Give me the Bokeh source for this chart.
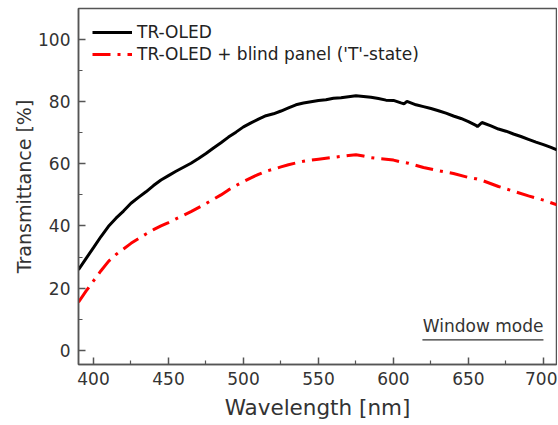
from bokeh.plotting import figure
from bokeh.models import Range1d, Legend, LegendItem, Label, FixedTicker
from bokeh.embed import file_html
from bokeh.resources import INLINE

# Data
wl_oled = [390, 395, 400, 405, 410, 415, 420, 425, 430, 435, 440, 445, 450, 455, 460, 465,
           470, 475, 480, 485, 490, 495, 500, 505, 510, 515, 520, 525, 530, 535, 540, 545,
           550, 555, 560, 565, 570, 575, 580, 585, 590, 595, 600, 605, 607, 609, 615, 620,
           625, 630, 635, 640, 645, 650, 655, 656, 659, 665, 670, 675, 680, 685, 690, 695,
           700, 705, 709]
t_oled = [25.9, 29.5, 33.0, 36.6, 39.9, 42.5, 44.8, 47.3, 49.2, 51.0, 53.0, 54.8, 56.2, 57.6,
          58.9, 60.2, 61.7, 63.3, 65.1, 66.8, 68.6, 70.2, 71.9, 73.2, 74.4, 75.5, 76.1, 77.0,
          78.0, 79.0, 79.6, 80.0, 80.4, 80.6, 81.1, 81.3, 81.6, 81.9, 81.7, 81.4, 81.0, 80.5,
          80.4, 79.6, 79.3, 80.1, 79.0, 78.4, 77.8, 77.1, 76.3, 75.4, 74.6, 73.6, 72.4, 72.0,
          73.3, 72.2, 71.2, 70.5, 69.6, 68.8, 67.9, 67.0, 66.2, 65.3, 64.5]

wl_blind = [390, 395, 400, 405, 410, 415, 420, 425, 430, 435, 440, 445, 450, 455, 460, 465,
            470, 475, 480, 485, 490, 495, 500, 505, 510, 515, 520, 525, 530, 535, 540, 545,
            550, 555, 560, 565, 570, 575, 580, 585, 590, 595, 600, 605, 610, 620, 630, 640,
            650, 655, 660, 670, 680, 690, 700, 709]
t_blind = [15.5, 19.0, 22.3, 25.6, 28.6, 30.8, 32.6, 34.4, 35.9, 37.4, 38.8, 40.0, 41.1, 42.3,
           43.4, 44.6, 45.9, 47.2, 48.6, 50.0, 51.6, 53.0, 54.3, 55.5, 56.6, 57.6, 58.3, 59.0,
           59.7, 60.3, 60.8, 61.2, 61.5, 61.8, 62.1, 62.4, 62.7, 62.9, 62.5, 62.0, 61.7, 61.5,
           61.2, 60.6, 60.2, 58.8, 57.8, 56.9, 55.6, 55.2, 54.5, 52.7, 51.2, 49.7, 48.3, 46.8]

x_ticks = [400, 450, 500, 550, 600, 650, 700]
y_ticks = [0, 20, 40, 60, 80, 100]
series_names = ["TR-OLED", "TR-OLED + blind panel ('T'-state)"]
x_title = "Wavelength [nm]"
y_title = "Transmittance [%]"
annotation = "Window mode"

FONT = "DejaVu Sans"
TXT = "#333333"
AX = "#555555"

p = figure(width=557, height=422, output_backend="svg", toolbar_location=None,
           x_range=Range1d(390, 708.7), y_range=Range1d(-4.6, 110.0),
           min_border_left=78, min_border_right=1, min_border_top=8, min_border_bottom=58)
p.xgrid.visible = False
p.ygrid.visible = False
p.outline_line_color = AX
p.outline_line_width = 1.5
p.background_fill_color = "white"
p.border_fill_color = "white"

r1 = p.line(wl_oled, t_oled, line_color="black", line_width=3)
r2 = p.line(wl_blind, t_blind, line_color="#ff0000", line_width=3, line_dash="18 7 3 7")

for ax in (p.xaxis[0], p.yaxis[0]):
    ax.axis_line_color = AX
    ax.axis_line_width = 1.5
    ax.major_tick_line_color = AX
    ax.minor_tick_line_color = AX
    ax.major_tick_line_width = 1.5
    ax.minor_tick_line_width = 1.2
    ax.major_tick_in = 7
    ax.major_tick_out = 0
    ax.minor_tick_in = 4
    ax.minor_tick_out = 0
    ax.major_label_text_font = FONT
    ax.major_label_text_color = TXT
    ax.major_label_text_font_size = "17px"
    ax.axis_label_text_font = FONT
    ax.axis_label_text_color = TXT
    ax.axis_label_text_font_style = "normal"

p.xaxis[0].axis_label_text_font_size = "21.5px"
p.yaxis[0].axis_label_text_font_size = "19px"
p.xaxis[0].ticker = FixedTicker(ticks=x_ticks, minor_ticks=[x + 25 for x in x_ticks] + [375])
p.yaxis[0].ticker = FixedTicker(ticks=y_ticks, minor_ticks=[y + 10 for y in y_ticks])
p.xaxis[0].axis_label = x_title
p.yaxis[0].axis_label = y_title
p.xaxis[0].major_label_standoff = 7
p.yaxis[0].major_label_standoff = 8
p.xaxis[0].axis_label_standoff = 7
p.yaxis[0].axis_label_standoff = 0

legend = Legend(items=[LegendItem(label=series_names[0], renderers=[r1]),
                       LegendItem(label=series_names[1], renderers=[r2])],
                location="top_left")
legend.margin = 4
legend.padding = 10
legend.spacing = 2
legend.glyph_width = 40
legend.glyph_height = 20
legend.label_height = 20
legend.label_standoff = 5
legend.label_text_font = FONT
legend.label_text_font_size = "17px"
legend.label_text_color = "#222222"
legend.border_line_color = "white"
legend.border_line_alpha = 0
legend.background_fill_alpha = 0
p.add_layout(legend)

lab = Label(x=700, y=4.6, text=annotation, text_align="right", text_baseline="bottom",
            text_font=FONT, text_font_size="17px", text_color=TXT)
p.add_layout(lab)
p.line([619.3, 700], [3.3, 3.3], line_color=TXT, line_width=1.2)

open("out.html", "w").write(file_html(p, INLINE))
